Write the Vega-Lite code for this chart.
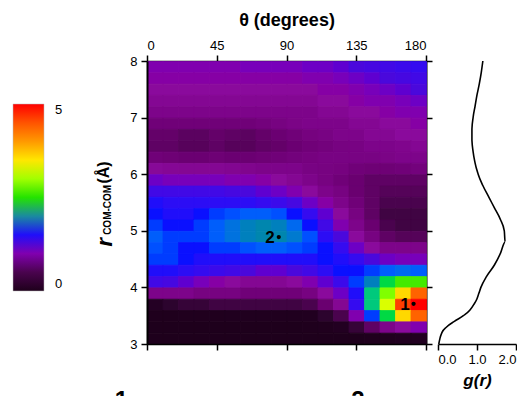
{
"$schema": "https://vega.github.io/schema/vega-lite/v6.json",
"padding": {"left": 13, "top": 11, "right": 0, "bottom": 0},
"background": "white",
"bounds": "flush",
"spacing": 12,
"config": {
  "font": "Liberation Sans",
  "view": {"stroke": null},
  "axis": {"grid": false, "domainColor": "black", "domainWidth": 2, "tickColor": "black", "tickWidth": 1.5, "tickSize": 6, "labelFontSize": 13, "labelColor": "black", "labelPadding": 3, "titleColor": "black", "labelFont": "Liberation Sans", "titleFont": "Liberation Sans"},
  "legend": {"padding": 0, "labelFont": "Liberation Sans"}
},
"datasets": {
  "heat": [
{"t":0,"r":7.8,"v":1.0},{"t":10,"r":7.8,"v":1.0},{"t":20,"r":7.8,"v":1.0},{"t":30,"r":7.8,"v":1.0},{"t":40,"r":7.8,"v":1.0},{"t":50,"r":7.8,"v":1.0},{"t":60,"r":7.8,"v":1.05},{"t":70,"r":7.8,"v":1.05},{"t":80,"r":7.8,"v":1.05},{"t":90,"r":7.8,"v":1.05},{"t":100,"r":7.8,"v":1.1},{"t":110,"r":7.8,"v":1.1},{"t":120,"r":7.8,"v":1.15},{"t":130,"r":7.8,"v":1.2},{"t":140,"r":7.8,"v":1.25},{"t":150,"r":7.8,"v":1.3},{"t":160,"r":7.8,"v":1.35},{"t":170,"r":7.8,"v":1.4},
{"t":0,"r":7.6,"v":0.95},{"t":10,"r":7.6,"v":0.95},{"t":20,"r":7.6,"v":0.95},{"t":30,"r":7.6,"v":0.95},{"t":40,"r":7.6,"v":0.95},{"t":50,"r":7.6,"v":0.95},{"t":60,"r":7.6,"v":0.95},{"t":70,"r":7.6,"v":0.95},{"t":80,"r":7.6,"v":0.95},{"t":90,"r":7.6,"v":0.95},{"t":100,"r":7.6,"v":1.0},{"t":110,"r":7.6,"v":1.0},{"t":120,"r":7.6,"v":1.05},{"t":130,"r":7.6,"v":1.1},{"t":140,"r":7.6,"v":1.15},{"t":150,"r":7.6,"v":1.2},{"t":160,"r":7.6,"v":1.25},{"t":170,"r":7.6,"v":1.3},
{"t":0,"r":7.4,"v":0.9},{"t":10,"r":7.4,"v":0.9},{"t":20,"r":7.4,"v":0.9},{"t":30,"r":7.4,"v":0.9},{"t":40,"r":7.4,"v":0.9},{"t":50,"r":7.4,"v":0.9},{"t":60,"r":7.4,"v":0.9},{"t":70,"r":7.4,"v":0.9},{"t":80,"r":7.4,"v":0.9},{"t":90,"r":7.4,"v":0.9},{"t":100,"r":7.4,"v":0.9},{"t":110,"r":7.4,"v":0.95},{"t":120,"r":7.4,"v":0.95},{"t":130,"r":7.4,"v":1.0},{"t":140,"r":7.4,"v":1.05},{"t":150,"r":7.4,"v":1.1},{"t":160,"r":7.4,"v":1.15},{"t":170,"r":7.4,"v":1.2},
{"t":0,"r":7.2,"v":0.85},{"t":10,"r":7.2,"v":0.85},{"t":20,"r":7.2,"v":0.85},{"t":30,"r":7.2,"v":0.85},{"t":40,"r":7.2,"v":0.85},{"t":50,"r":7.2,"v":0.85},{"t":60,"r":7.2,"v":0.85},{"t":70,"r":7.2,"v":0.85},{"t":80,"r":7.2,"v":0.85},{"t":90,"r":7.2,"v":0.85},{"t":100,"r":7.2,"v":0.85},{"t":110,"r":7.2,"v":0.9},{"t":120,"r":7.2,"v":0.9},{"t":130,"r":7.2,"v":0.95},{"t":140,"r":7.2,"v":1.0},{"t":150,"r":7.2,"v":1.0},{"t":160,"r":7.2,"v":1.05},{"t":170,"r":7.2,"v":1.1},
{"t":0,"r":7.0,"v":0.8},{"t":10,"r":7.0,"v":0.8},{"t":20,"r":7.0,"v":0.8},{"t":30,"r":7.0,"v":0.8},{"t":40,"r":7.0,"v":0.8},{"t":50,"r":7.0,"v":0.8},{"t":60,"r":7.0,"v":0.8},{"t":70,"r":7.0,"v":0.8},{"t":80,"r":7.0,"v":0.8},{"t":90,"r":7.0,"v":0.8},{"t":100,"r":7.0,"v":0.8},{"t":110,"r":7.0,"v":0.85},{"t":120,"r":7.0,"v":0.85},{"t":130,"r":7.0,"v":0.9},{"t":140,"r":7.0,"v":0.9},{"t":150,"r":7.0,"v":0.95},{"t":160,"r":7.0,"v":1.0},{"t":170,"r":7.0,"v":1.0},
{"t":0,"r":6.8,"v":0.7},{"t":10,"r":6.8,"v":0.7},{"t":20,"r":6.8,"v":0.7},{"t":30,"r":6.8,"v":0.7},{"t":40,"r":6.8,"v":0.7},{"t":50,"r":6.8,"v":0.7},{"t":60,"r":6.8,"v":0.7},{"t":70,"r":6.8,"v":0.72},{"t":80,"r":6.8,"v":0.75},{"t":90,"r":6.8,"v":0.78},{"t":100,"r":6.8,"v":0.8},{"t":110,"r":6.8,"v":0.8},{"t":120,"r":6.8,"v":0.8},{"t":130,"r":6.8,"v":0.85},{"t":140,"r":6.8,"v":0.85},{"t":150,"r":6.8,"v":0.9},{"t":160,"r":6.8,"v":0.9},{"t":170,"r":6.8,"v":0.95},
{"t":0,"r":6.6,"v":0.62},{"t":10,"r":6.6,"v":0.62},{"t":20,"r":6.6,"v":0.58},{"t":30,"r":6.6,"v":0.58},{"t":40,"r":6.6,"v":0.62},{"t":50,"r":6.6,"v":0.6},{"t":60,"r":6.6,"v":0.58},{"t":70,"r":6.6,"v":0.62},{"t":80,"r":6.6,"v":0.66},{"t":90,"r":6.6,"v":0.7},{"t":100,"r":6.6,"v":0.74},{"t":110,"r":6.6,"v":0.76},{"t":120,"r":6.6,"v":0.8},{"t":130,"r":6.6,"v":0.8},{"t":140,"r":6.6,"v":0.85},{"t":150,"r":6.6,"v":0.85},{"t":160,"r":6.6,"v":0.9},{"t":170,"r":6.6,"v":0.9},
{"t":0,"r":6.4,"v":0.6},{"t":10,"r":6.4,"v":0.6},{"t":20,"r":6.4,"v":0.56},{"t":30,"r":6.4,"v":0.56},{"t":40,"r":6.4,"v":0.6},{"t":50,"r":6.4,"v":0.56},{"t":60,"r":6.4,"v":0.56},{"t":70,"r":6.4,"v":0.6},{"t":80,"r":6.4,"v":0.62},{"t":90,"r":6.4,"v":0.66},{"t":100,"r":6.4,"v":0.7},{"t":110,"r":6.4,"v":0.72},{"t":120,"r":6.4,"v":0.75},{"t":130,"r":6.4,"v":0.76},{"t":140,"r":6.4,"v":0.8},{"t":150,"r":6.4,"v":0.8},{"t":160,"r":6.4,"v":0.82},{"t":170,"r":6.4,"v":0.85},
{"t":0,"r":6.2,"v":0.7},{"t":10,"r":6.2,"v":0.68},{"t":20,"r":6.2,"v":0.66},{"t":30,"r":6.2,"v":0.66},{"t":40,"r":6.2,"v":0.68},{"t":50,"r":6.2,"v":0.66},{"t":60,"r":6.2,"v":0.66},{"t":70,"r":6.2,"v":0.68},{"t":80,"r":6.2,"v":0.7},{"t":90,"r":6.2,"v":0.72},{"t":100,"r":6.2,"v":0.74},{"t":110,"r":6.2,"v":0.76},{"t":120,"r":6.2,"v":0.76},{"t":130,"r":6.2,"v":0.76},{"t":140,"r":6.2,"v":0.76},{"t":150,"r":6.2,"v":0.78},{"t":160,"r":6.2,"v":0.8},{"t":170,"r":6.2,"v":0.8},
{"t":0,"r":6.0,"v":0.88},{"t":10,"r":6.0,"v":0.86},{"t":20,"r":6.0,"v":0.85},{"t":30,"r":6.0,"v":0.85},{"t":40,"r":6.0,"v":0.85},{"t":50,"r":6.0,"v":0.84},{"t":60,"r":6.0,"v":0.82},{"t":70,"r":6.0,"v":0.8},{"t":80,"r":6.0,"v":0.8},{"t":90,"r":6.0,"v":0.8},{"t":100,"r":6.0,"v":0.76},{"t":110,"r":6.0,"v":0.75},{"t":120,"r":6.0,"v":0.74},{"t":130,"r":6.0,"v":0.7},{"t":140,"r":6.0,"v":0.68},{"t":150,"r":6.0,"v":0.68},{"t":160,"r":6.0,"v":0.7},{"t":170,"r":6.0,"v":0.72},
{"t":0,"r":5.8,"v":1.1},{"t":10,"r":5.8,"v":1.05},{"t":20,"r":5.8,"v":1.05},{"t":30,"r":5.8,"v":1.05},{"t":40,"r":5.8,"v":1.05},{"t":50,"r":5.8,"v":1.0},{"t":60,"r":5.8,"v":1.0},{"t":70,"r":5.8,"v":0.95},{"t":80,"r":5.8,"v":0.9},{"t":90,"r":5.8,"v":0.85},{"t":100,"r":5.8,"v":0.8},{"t":110,"r":5.8,"v":0.75},{"t":120,"r":5.8,"v":0.7},{"t":130,"r":5.8,"v":0.65},{"t":140,"r":5.8,"v":0.6},{"t":150,"r":5.8,"v":0.6},{"t":160,"r":5.8,"v":0.6},{"t":170,"r":5.8,"v":0.6},
{"t":0,"r":5.6,"v":1.3},{"t":10,"r":5.6,"v":1.3},{"t":20,"r":5.6,"v":1.3},{"t":30,"r":5.6,"v":1.3},{"t":40,"r":5.6,"v":1.3},{"t":50,"r":5.6,"v":1.25},{"t":60,"r":5.6,"v":1.2},{"t":70,"r":5.6,"v":1.15},{"t":80,"r":5.6,"v":1.1},{"t":90,"r":5.6,"v":1.0},{"t":100,"r":5.6,"v":0.9},{"t":110,"r":5.6,"v":0.8},{"t":120,"r":5.6,"v":0.75},{"t":130,"r":5.6,"v":0.65},{"t":140,"r":5.6,"v":0.6},{"t":150,"r":5.6,"v":0.55},{"t":160,"r":5.6,"v":0.55},{"t":170,"r":5.6,"v":0.55},
{"t":0,"r":5.4,"v":1.5},{"t":10,"r":5.4,"v":1.45},{"t":20,"r":5.4,"v":1.45},{"t":30,"r":5.4,"v":1.45},{"t":40,"r":5.4,"v":1.45},{"t":50,"r":5.4,"v":1.45},{"t":60,"r":5.4,"v":1.45},{"t":70,"r":5.4,"v":1.4},{"t":80,"r":5.4,"v":1.35},{"t":90,"r":5.4,"v":1.25},{"t":100,"r":5.4,"v":1.1},{"t":110,"r":5.4,"v":0.95},{"t":120,"r":5.4,"v":0.8},{"t":130,"r":5.4,"v":0.7},{"t":140,"r":5.4,"v":0.6},{"t":150,"r":5.4,"v":0.5},{"t":160,"r":5.4,"v":0.5},{"t":170,"r":5.4,"v":0.5},
{"t":0,"r":5.2,"v":1.55},{"t":10,"r":5.2,"v":1.5},{"t":20,"r":5.2,"v":1.5},{"t":30,"r":5.2,"v":1.55},{"t":40,"r":5.2,"v":1.6},{"t":50,"r":5.2,"v":1.65},{"t":60,"r":5.2,"v":1.7},{"t":70,"r":5.2,"v":1.7},{"t":80,"r":5.2,"v":1.65},{"t":90,"r":5.2,"v":1.55},{"t":100,"r":5.2,"v":1.4},{"t":110,"r":5.2,"v":1.15},{"t":120,"r":5.2,"v":0.9},{"t":130,"r":5.2,"v":0.75},{"t":140,"r":5.2,"v":0.6},{"t":150,"r":5.2,"v":0.45},{"t":160,"r":5.2,"v":0.45},{"t":170,"r":5.2,"v":0.45},
{"t":0,"r":5.0,"v":1.6},{"t":10,"r":5.0,"v":1.55},{"t":20,"r":5.0,"v":1.55},{"t":30,"r":5.0,"v":1.6},{"t":40,"r":5.0,"v":1.7},{"t":50,"r":5.0,"v":1.8},{"t":60,"r":5.0,"v":1.9},{"t":70,"r":5.0,"v":1.95},{"t":80,"r":5.0,"v":1.9},{"t":90,"r":5.0,"v":1.75},{"t":100,"r":5.0,"v":1.55},{"t":110,"r":5.0,"v":1.3},{"t":120,"r":5.0,"v":1.0},{"t":130,"r":5.0,"v":0.8},{"t":140,"r":5.0,"v":0.65},{"t":150,"r":5.0,"v":0.5},{"t":160,"r":5.0,"v":0.45},{"t":170,"r":5.0,"v":0.45},
{"t":0,"r":4.8,"v":1.7},{"t":10,"r":4.8,"v":1.6},{"t":20,"r":4.8,"v":1.6},{"t":30,"r":4.8,"v":1.6},{"t":40,"r":4.8,"v":1.7},{"t":50,"r":4.8,"v":1.8},{"t":60,"r":4.8,"v":1.9},{"t":70,"r":4.8,"v":1.95},{"t":80,"r":4.8,"v":1.95},{"t":90,"r":4.8,"v":1.85},{"t":100,"r":4.8,"v":1.65},{"t":110,"r":4.8,"v":1.45},{"t":120,"r":4.8,"v":1.2},{"t":130,"r":4.8,"v":0.9},{"t":140,"r":4.8,"v":0.75},{"t":150,"r":4.8,"v":0.6},{"t":160,"r":4.8,"v":0.55},{"t":170,"r":4.8,"v":0.55},
{"t":0,"r":4.6,"v":1.65},{"t":10,"r":4.6,"v":1.6},{"t":20,"r":4.6,"v":1.55},{"t":30,"r":4.6,"v":1.55},{"t":40,"r":4.6,"v":1.6},{"t":50,"r":4.6,"v":1.6},{"t":60,"r":4.6,"v":1.65},{"t":70,"r":4.6,"v":1.7},{"t":80,"r":4.6,"v":1.7},{"t":90,"r":4.6,"v":1.65},{"t":100,"r":4.6,"v":1.6},{"t":110,"r":4.6,"v":1.55},{"t":120,"r":4.6,"v":1.4},{"t":130,"r":4.6,"v":1.1},{"t":140,"r":4.6,"v":0.9},{"t":150,"r":4.6,"v":0.8},{"t":160,"r":4.6,"v":0.8},{"t":170,"r":4.6,"v":0.8},
{"t":0,"r":4.4,"v":1.6},{"t":10,"r":4.4,"v":1.6},{"t":20,"r":4.4,"v":1.55},{"t":30,"r":4.4,"v":1.5},{"t":40,"r":4.4,"v":1.5},{"t":50,"r":4.4,"v":1.5},{"t":60,"r":4.4,"v":1.5},{"t":70,"r":4.4,"v":1.5},{"t":80,"r":4.4,"v":1.5},{"t":90,"r":4.4,"v":1.5},{"t":100,"r":4.4,"v":1.5},{"t":110,"r":4.4,"v":1.55},{"t":120,"r":4.4,"v":1.5},{"t":130,"r":4.4,"v":1.4},{"t":140,"r":4.4,"v":1.2},{"t":150,"r":4.4,"v":1.1},{"t":160,"r":4.4,"v":1.05},{"t":170,"r":4.4,"v":1.05},
{"t":0,"r":4.2,"v":1.5},{"t":10,"r":4.2,"v":1.5},{"t":20,"r":4.2,"v":1.45},{"t":30,"r":4.2,"v":1.4},{"t":40,"r":4.2,"v":1.35},{"t":50,"r":4.2,"v":1.3},{"t":60,"r":4.2,"v":1.2},{"t":70,"r":4.2,"v":1.15},{"t":80,"r":4.2,"v":1.15},{"t":90,"r":4.2,"v":1.2},{"t":100,"r":4.2,"v":1.3},{"t":110,"r":4.2,"v":1.45},{"t":120,"r":4.2,"v":1.55},{"t":130,"r":4.2,"v":1.55},{"t":140,"r":4.2,"v":1.6},{"t":150,"r":4.2,"v":1.7},{"t":160,"r":4.2,"v":1.75},{"t":170,"r":4.2,"v":1.7},
{"t":0,"r":4.0,"v":1.3},{"t":10,"r":4.0,"v":1.25},{"t":20,"r":4.0,"v":1.15},{"t":30,"r":4.0,"v":1.05},{"t":40,"r":4.0,"v":0.95},{"t":50,"r":4.0,"v":0.9},{"t":60,"r":4.0,"v":0.85},{"t":70,"r":4.0,"v":0.85},{"t":80,"r":4.0,"v":0.85},{"t":90,"r":4.0,"v":0.9},{"t":100,"r":4.0,"v":1.0},{"t":110,"r":4.0,"v":1.15},{"t":120,"r":4.0,"v":1.35},{"t":130,"r":4.0,"v":1.6},{"t":140,"r":4.0,"v":1.9},{"t":150,"r":4.0,"v":2.4},{"t":160,"r":4.0,"v":2.6},{"t":170,"r":4.0,"v":2.6},
{"t":0,"r":3.8,"v":0.8},{"t":10,"r":3.8,"v":0.8},{"t":20,"r":3.8,"v":0.8},{"t":30,"r":3.8,"v":0.75},{"t":40,"r":3.8,"v":0.75},{"t":50,"r":3.8,"v":0.75},{"t":60,"r":3.8,"v":0.7},{"t":70,"r":3.8,"v":0.7},{"t":80,"r":3.8,"v":0.7},{"t":90,"r":3.8,"v":0.7},{"t":100,"r":3.8,"v":0.75},{"t":110,"r":3.8,"v":0.9},{"t":120,"r":3.8,"v":1.1},{"t":130,"r":3.8,"v":1.5},{"t":140,"r":3.8,"v":2.3},{"t":150,"r":3.8,"v":2.9},{"t":160,"r":3.8,"v":3.6},{"t":170,"r":3.8,"v":4.4},
{"t":0,"r":3.6,"v":0.3},{"t":10,"r":3.6,"v":0.35},{"t":20,"r":3.6,"v":0.4},{"t":30,"r":3.6,"v":0.4},{"t":40,"r":3.6,"v":0.45},{"t":50,"r":3.6,"v":0.45},{"t":60,"r":3.6,"v":0.45},{"t":70,"r":3.6,"v":0.45},{"t":80,"r":3.6,"v":0.45},{"t":90,"r":3.6,"v":0.45},{"t":100,"r":3.6,"v":0.5},{"t":110,"r":3.6,"v":0.65},{"t":120,"r":3.6,"v":0.85},{"t":130,"r":3.6,"v":1.4},{"t":140,"r":3.6,"v":2.3},{"t":150,"r":3.6,"v":3.2},{"t":160,"r":3.6,"v":4.6},{"t":170,"r":3.6,"v":5.0},
{"t":0,"r":3.4,"v":0.05},{"t":10,"r":3.4,"v":0.06},{"t":20,"r":3.4,"v":0.08},{"t":30,"r":3.4,"v":0.1},{"t":40,"r":3.4,"v":0.1},{"t":50,"r":3.4,"v":0.12},{"t":60,"r":3.4,"v":0.12},{"t":70,"r":3.4,"v":0.12},{"t":80,"r":3.4,"v":0.12},{"t":90,"r":3.4,"v":0.12},{"t":100,"r":3.4,"v":0.15},{"t":110,"r":3.4,"v":0.35},{"t":120,"r":3.4,"v":0.5},{"t":130,"r":3.4,"v":1.0},{"t":140,"r":3.4,"v":1.6},{"t":150,"r":3.4,"v":2.4},{"t":160,"r":3.4,"v":3.6},{"t":170,"r":3.4,"v":4.4},
{"t":0,"r":3.2,"v":0.02},{"t":10,"r":3.2,"v":0.02},{"t":20,"r":3.2,"v":0.03},{"t":30,"r":3.2,"v":0.03},{"t":40,"r":3.2,"v":0.03},{"t":50,"r":3.2,"v":0.03},{"t":60,"r":3.2,"v":0.03},{"t":70,"r":3.2,"v":0.03},{"t":80,"r":3.2,"v":0.03},{"t":90,"r":3.2,"v":0.03},{"t":100,"r":3.2,"v":0.05},{"t":110,"r":3.2,"v":0.1},{"t":120,"r":3.2,"v":0.2},{"t":130,"r":3.2,"v":0.4},{"t":140,"r":3.2,"v":0.6},{"t":150,"r":3.2,"v":0.8},{"t":160,"r":3.2,"v":0.9},{"t":170,"r":3.2,"v":1.0},
{"t":0,"r":3.0,"v":0.02},{"t":10,"r":3.0,"v":0.02},{"t":20,"r":3.0,"v":0.02},{"t":30,"r":3.0,"v":0.02},{"t":40,"r":3.0,"v":0.02},{"t":50,"r":3.0,"v":0.02},{"t":60,"r":3.0,"v":0.02},{"t":70,"r":3.0,"v":0.02},{"t":80,"r":3.0,"v":0.02},{"t":90,"r":3.0,"v":0.02},{"t":100,"r":3.0,"v":0.02},{"t":110,"r":3.0,"v":0.02},{"t":120,"r":3.0,"v":0.02},{"t":130,"r":3.0,"v":0.03},{"t":140,"r":3.0,"v":0.05},{"t":150,"r":3.0,"v":0.1},{"t":160,"r":3.0,"v":0.15},{"t":170,"r":3.0,"v":0.15}
  ],
  "gr": [
{"r":3.0,"g":0.02},{"r":3.1,"g":0.05},{"r":3.2,"g":0.1},{"r":3.3,"g":0.22},{"r":3.4,"g":0.42},{"r":3.5,"g":0.65},{"r":3.6,"g":0.82},{"r":3.7,"g":0.92},{"r":3.8,"g":1.0},{"r":3.9,"g":1.05},{"r":4.0,"g":1.1},{"r":4.2,"g":1.25},{"r":4.4,"g":1.45},{"r":4.6,"g":1.6},{"r":4.8,"g":1.72},{"r":5.0,"g":1.7},{"r":5.2,"g":1.6},{"r":5.4,"g":1.45},{"r":5.6,"g":1.3},{"r":5.8,"g":1.15},{"r":6.0,"g":1.03},{"r":6.2,"g":0.95},{"r":6.4,"g":0.9},{"r":6.6,"g":0.87},{"r":6.8,"g":0.87},{"r":7.0,"g":0.9},{"r":7.2,"g":0.95},{"r":7.4,"g":1.0},{"r":7.6,"g":1.06},{"r":7.8,"g":1.11},{"r":8.0,"g":1.15}
  ],
  "pts": [{"t":172,"r":3.71,"label":"1"},{"t":85,"r":4.89,"label":"2"}],
  "one": [{"k":1}]
},
"hconcat": [
  {
    "width": 279,
    "height": 283,
    "layer": [
      {
        "data": {"name": "heat"},
        "mark": {"type": "rect", "binSpacing": 0, "strokeWidth": 0.8},
        "encoding": {
          "x": {"field": "t", "type": "quantitative", "bin": {"binned": true, "step": 10}, "scale": {"domain": [0, 180], "nice": false}, "axis": {"orient": "bottom", "values": [0, 45, 90, 135, 180], "labels": false, "title": null, "domainWidth": 1.5}},
          "y": {"field": "r", "type": "quantitative", "bin": {"binned": true, "step": 0.2}, "scale": {"domain": [3, 8], "nice": false}, "axis": {"orient": "left", "values": [3, 4, 5, 6, 7, 8], "format": "d", "title": null, "labelPadding": 4}},
          "color": {
            "field": "v", "type": "quantitative",
            "scale": {"domain": [0, 0.3, 0.65, 0.9, 1.2, 1.55, 2.0, 2.45, 2.9, 3.35, 4.0, 4.7, 5], "range": ["#000000", "#240024", "#6a0070", "#8a0a9c", "#4a08dc", "#0a10ff", "#1a8aa0", "#00e000", "#80ff00", "#ffff00", "#ff9900", "#ff2000", "#ff0000"], "clamp": true},
            "legend": {"type": "gradient", "orient": "none", "legendX": -134, "legendY": 43, "direction": "vertical", "gradientLength": 187, "gradientThickness": 31, "values": [0, 5], "title": null, "labelFontSize": 13, "labelColor": "black", "labelOffset": 11, "gradientStrokeColor": "#bbbbbb", "gradientStrokeWidth": 0.5}
          },
          "stroke": {
            "field": "v", "type": "quantitative",
            "scale": {"domain": [-0.0001, 0.3, 0.65, 0.9, 1.2, 1.55, 2.0, 2.45, 2.9, 3.35, 4.0, 4.7, 5.0001], "range": ["#000000", "#240024", "#6a0070", "#8a0a9c", "#4a08dc", "#0a10ff", "#1a8aa0", "#00e000", "#80ff00", "#ffff00", "#ff9900", "#ff2000", "#ff0000"], "clamp": true},
            "legend": null
          }
        }
      },
      {
        "data": {"name": "pts"},
        "mark": {"type": "point", "filled": true, "color": "black", "size": 18, "opacity": 1},
        "encoding": {
          "x": {"field": "t", "type": "quantitative", "axis": {"orient": "top", "values": [0, 45, 90, 135, 180], "title": "θ (degrees)", "titleFontSize": 18, "titleFontWeight": "bold", "titlePadding": 10, "domainWidth": 1.5}},
          "y": {"field": "r", "type": "quantitative", "axis": {"orient": "right", "values": [3, 4, 5, 6, 7, 8], "labels": false, "title": null}}
        }
      },
      {
        "data": {"name": "pts"},
        "mark": {"type": "text", "align": "right", "baseline": "middle", "dx": -4, "dy": 1, "fontSize": 17, "fontWeight": "bold", "color": "black"},
        "encoding": {
          "x": {"field": "t", "type": "quantitative", "axis": null},
          "y": {"field": "r", "type": "quantitative", "axis": null},
          "text": {"field": "label"}
        }
      },
      {
        "data": {"name": "one"},
        "mark": {"type": "text", "angle": 270, "align": "center", "baseline": "middle", "fontSize": 22, "fontWeight": "bold", "fontStyle": "italic", "color": "black"},
        "encoding": {"x": {"datum": -27.4, "type": "quantitative", "axis": null}, "y": {"datum": 4.8, "type": "quantitative", "axis": null}, "text": {"value": "r"}}
      },
      {
        "data": {"name": "one"},
        "mark": {"type": "text", "angle": 270, "align": "center", "baseline": "middle", "fontSize": 10, "fontWeight": "bold", "color": "black"},
        "encoding": {"x": {"datum": -25, "type": "quantitative", "axis": null}, "y": {"datum": 5.37, "type": "quantitative", "axis": null}, "text": {"value": "COM-COM"}}
      },
      {
        "data": {"name": "one"},
        "mark": {"type": "text", "angle": 270, "align": "center", "baseline": "middle", "fontSize": 16, "fontWeight": "bold", "color": "black"},
        "encoding": {"x": {"datum": -28, "type": "quantitative", "axis": null}, "y": {"datum": 6.03, "type": "quantitative", "axis": null}, "text": {"value": "(Å)"}}
      },
      {
        "data": {"name": "one"},
        "mark": {"type": "text", "align": "center", "baseline": "top", "fontSize": 24, "fontWeight": "bold", "color": "black"},
        "encoding": {"x": {"datum": -16.5, "type": "quantitative", "axis": null}, "y": {"datum": 2.2, "type": "quantitative", "axis": null}, "text": {"value": "1"}}
      },
      {
        "data": {"name": "one"},
        "mark": {"type": "text", "align": "center", "baseline": "top", "fontSize": 24, "fontWeight": "bold", "color": "black"},
        "encoding": {"x": {"datum": 136, "type": "quantitative", "axis": null}, "y": {"datum": 2.2, "type": "quantitative", "axis": null}, "text": {"value": "2"}}
      }
    ],
    "resolve": {"axis": {"x": "independent", "y": "independent"}}
  },
  {
    "width": 78,
    "height": 283,
    "data": {"name": "gr"},
    "mark": {"type": "line", "color": "black", "strokeWidth": 1.6, "interpolate": "monotone"},
    "encoding": {
      "x": {"field": "g", "type": "quantitative", "scale": {"domain": [0, 2], "nice": false}, "axis": {"values": [0, 1, 2], "format": ".1f", "title": "g(r)", "titleFontSize": 17, "titleFontWeight": "bold", "titleFontStyle": "italic", "titlePadding": 6, "domainWidth": 1.5}},
      "y": {"field": "r", "type": "quantitative", "scale": {"domain": [3, 8], "nice": false}, "axis": null},
      "order": {"field": "r", "type": "quantitative"}
    }
  }
]
}
